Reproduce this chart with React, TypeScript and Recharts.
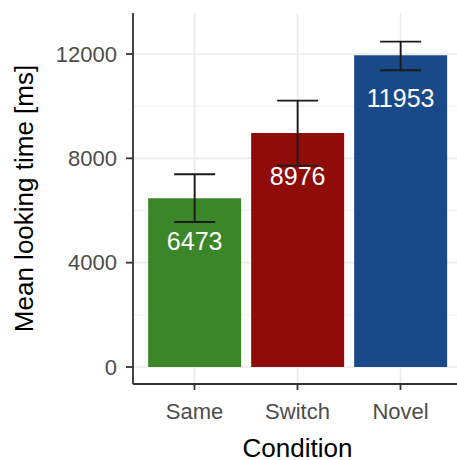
import React from 'react';
import {
  BarChart,
  Bar,
  XAxis,
  YAxis,
  CartesianGrid,
  ErrorBar,
  LabelList,
  Cell,
} from 'recharts';

const conditions = ['Same', 'Switch', 'Novel'];
const meanTimes = [6473, 8976, 11953];
const errLow = [913, 1257, 577];
const errHigh = [916, 1235, 520];
const barColors = ['#3b8628', '#8f0c08', '#1a4989'];
const yTicks = [0, 4000, 8000, 12000];
const yMinor = [2000, 6000, 10000];

const data = conditions.map((c, i) => ({
  condition: c,
  mean: meanTimes[i],
  err: [errLow[i], errHigh[i]],
}));

const font = '"Liberation Sans", Arial, Helvetica, sans-serif';
const axisStroke = { stroke: '#333333', strokeWidth: 1.8 };

const App: React.FC = () => {
  return (
    <div style={{ position: 'absolute', left: 0, top: 0, width: 457, height: 460, overflow: 'hidden', background: '#fff' }}>
      <BarChart
        width={475}
        height={460}
        data={data}
        margin={{ top: 13, right: 13, bottom: 0, left: 0 }}
        barCategoryGap="5%"
        style={{ fontFamily: font }}
      >
        <CartesianGrid
          horizontalValues={yMinor}
          vertical={false}
          stroke="#ebebeb"
          strokeWidth={0.8}
        />
        <CartesianGrid
          horizontalValues={yTicks}
          stroke="#ebebeb"
          strokeWidth={1.6}
        />
        <XAxis
          dataKey="condition"
          padding={{ left: 10, right: 10 }}
          height={76}
          tickSize={6}
          tickMargin={13}
          axisLine={axisStroke}
          tickLine={axisStroke}
          tick={{ fill: '#4d4d4d', fontSize: 22 }}
          label={{ value: 'Condition', position: 'insideBottom', offset: 3, fill: '#000', fontSize: 26 }}
        />
        <XAxis
          xAxisId="top"
          dataKey="condition"
          orientation="top"
          height={0}
          tick={false}
          tickLine={false}
          axisLine={axisStroke}
        />
        <YAxis
          type="number"
          domain={[-652, 13572]}
          allowDataOverflow
          ticks={yTicks}
          width={133}
          tickSize={7}
          tickMargin={9}
          axisLine={axisStroke}
          tickLine={axisStroke}
          tick={{ fill: '#4d4d4d', fontSize: 22 }}
          label={{
            value: 'Mean looking time [ms]',
            angle: -90,
            position: 'insideLeft',
            offset: 24,
            fill: '#000',
            fontSize: 26,
            style: { textAnchor: 'middle' },
          }}
        />
        <Bar dataKey="mean" isAnimationActive={false}>
          {data.map((d, i) => (
            <Cell key={d.condition} fill={barColors[i]} />
          ))}
          <ErrorBar dataKey="err" width={20.5} stroke="#1a1a1a" strokeWidth={1.9} />
          <LabelList dataKey="mean" position="insideTop" offset={34} fill="#ffffff" fontSize={25} />
        </Bar>
      </BarChart>
    </div>
  );
};

export default App;
